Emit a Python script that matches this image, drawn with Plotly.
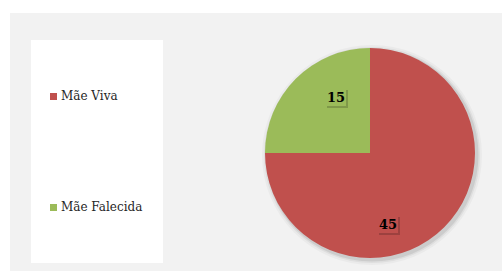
import plotly.graph_objects as go

labels = ["Mãe Viva", "Mãe Falecida"]
values = [45, 15]
colors = ["#C0504D", "#9BBB59"]

W, H = 502, 271

def px(x):
    return x / W

def py(y):
    return 1 - y / H

# pie geometry (pixels)
CX, CY, R = 370, 153, 105

fig = go.Figure()
fig.add_trace(go.Pie(
    labels=labels, values=values, sort=False, direction="clockwise", rotation=0,
    marker=dict(colors=colors, line=dict(width=0)),
    textinfo="none",
    domain=dict(x=[px(CX - R), px(CX + R)], y=[py(CY + R), py(CY - R)]),
    showlegend=False, hoverinfo="label+value",
))

shapes = [
    dict(type="rect", xref="paper", yref="paper", x0=px(10), x1=1, y0=0, y1=py(13),
         fillcolor="#F2F2F2", line=dict(width=0), layer="below"),
    dict(type="rect", xref="paper", yref="paper", x0=px(31), x1=px(163), y0=py(263), y1=py(40),
         fillcolor="#FFFFFF", line=dict(width=0), layer="below"),
]
# soft pie shadow
for grow, alpha in [(5, 0.03), (3, 0.05), (1.5, 0.08)]:
    shapes.append(dict(type="circle", xref="paper", yref="paper",
                       x0=px(CX - R - grow + 2), x1=px(CX + R + grow + 2),
                       y0=py(CY + R + grow + 2), y1=py(CY - R - grow + 2),
                       fillcolor=f"rgba(0,0,0,{alpha})", line=dict(width=0), layer="below"))

legend_y = [96, 207]
annotations = []
for lab, col, yy in zip(labels, colors, legend_y):
    shapes.append(dict(type="rect", xref="paper", yref="paper", x0=px(50), x1=px(57),
                       y0=py(yy + 4), y1=py(yy - 3), fillcolor=col, line=dict(width=0)))
    annotations.append(dict(x=px(59), y=py(yy), xref="paper", yref="paper", text=lab,
                            showarrow=False, xanchor="left", yanchor="middle",
                            font=dict(family="DejaVu Serif", size=12, color="#262626")))

# data labels
label_pos = [(388, 224), (336, 97)]
for v, col, (lx, ly) in zip(values, colors, label_pos):
    # label box shadow
    shapes.append(dict(type="rect", xref="paper", yref="paper",
                       x0=px(lx - 9), x1=px(lx + 12), y0=py(ly + 11), y1=py(ly - 7),
                       fillcolor="rgba(0,0,0,0.18)", line=dict(width=0)))
    shapes.append(dict(type="rect", xref="paper", yref="paper",
                       x0=px(lx - 11), x1=px(lx + 10), y0=py(ly + 9), y1=py(ly - 9),
                       fillcolor=col, line=dict(width=0)))
    annotations.append(dict(x=px(lx), y=py(ly), xref="paper", yref="paper", text=str(v),
                            showarrow=False, xanchor="center", yanchor="middle",
                            font=dict(family="DejaVu Serif", size=13, color="#000000",
                                      weight="bold")))

fig.update_layout(
    width=W, height=H, margin=dict(l=0, r=0, t=0, b=0),
    paper_bgcolor="#FFFFFF", plot_bgcolor="#FFFFFF",
    shapes=shapes, annotations=annotations,
)
fig.write_html("out.html", post_script="document.body.style.margin='0';",
               config={"displayModeBar": False})
